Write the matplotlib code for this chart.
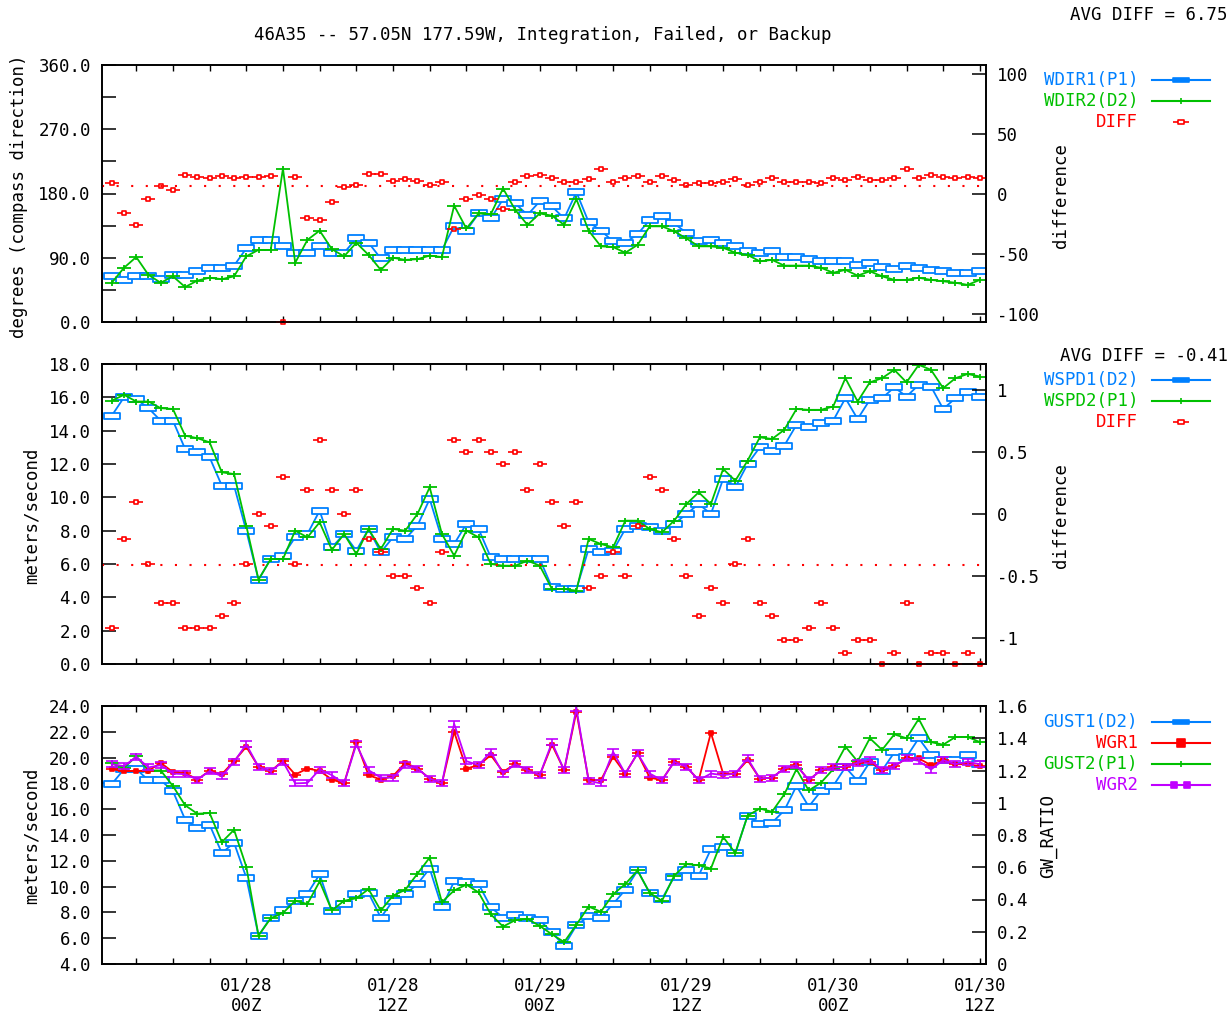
import numpy as np
import matplotlib.pyplot as plt
from matplotlib.path import Path
from matplotlib.lines import Line2D
from matplotlib.ticker import MultipleLocator, FixedLocator, FormatStrFormatter, FuncFormatter

plt.rcParams['font.family'] = ['DejaVu Sans Mono', 'DejaVu Sans']
plt.rcParams['font.size'] = 12.5
plt.rcParams['axes.unicode_minus'] = False

# hourly observations, hours relative to 01/28 00Z
hours = np.arange(-11, 61)
tick_hours = [0, 12, 24, 36, 48, 60]
tick_labels = ['01/28\n00Z', '01/28\n12Z', '01/29\n00Z', '01/29\n12Z', '01/30\n00Z', '01/30\n12Z']

# wind direction (degrees) and difference
wdir1 = [64, 59, 64, 64, 60, 66, 66, 71, 75, 75, 79, 103, 115, 115, 106, 97, 97, 106, 97, 97, 117, 111, 89, 101, 101, 101,
         101, 101, 134, 128, 152, 145, 172, 166, 150, 169, 162, 145, 182, 140, 128, 113, 111, 123, 143, 148, 138, 125,
         113, 115, 111, 106, 100, 96, 99, 91, 91, 88, 85, 85, 86, 80, 82, 77, 74, 79, 75, 73, 72, 69, 68, 72]
wdir2 = [55, 76, 91, 66, 55, 64, 49, 58, 62, 60, 64, 92, 101, 101, 215, 83, 115, 128, 102, 92, 111, 94, 73, 90, 87, 88,
         93, 91, 163, 131, 152, 151, 187, 157, 136, 152, 149, 136, 172, 128, 106, 105, 97, 108, 134, 134, 127, 117,
         106, 106, 104, 97, 94, 85, 87, 79, 79, 79, 76, 69, 73, 65, 71, 64, 59, 59, 62, 59, 57, 55, 52, 59]
wdir_diff = [8.9, -16, -26, -4.4, 6.1, 3.3, 15.8, 14.4, 13.6, 15, 13.6, 14.4, 14.4, 15, -107, 14.4, -20, -22, -7, 6, 7.5,
             16.7, 16.4, 10.8, 12.2, 10.8,
             7.5, 10, -29, -4, -1.4, -4, -13, 10, 15, 16, 13.6, 10, 10, 12, 21, 10, 13.6, 15, 10, 15, 11.7, 7.5, 9, 9,
             10, 12, 7.5, 10, 13, 10, 10, 10, 9, 13.6, 11.7, 14.4, 11.7, 11.7, 13.6, 21, 13.6, 16, 14.4, 13.6, 14.4, 13.6]
wdir_avg = 6.75

# wind speed (m/s) and difference
wspd1 = [14.9, 16.0, 15.9, 15.35, 14.6, 14.6, 12.9, 12.7, 12.4, 10.7, 10.7, 8.0, 5.06, 6.3, 6.5, 7.6, 7.8, 9.2, 7.0, 7.8,
         6.8, 8.1, 6.7, 7.6, 7.5, 8.3,
         9.9, 7.5, 7.2, 8.4, 8.1, 6.4, 6.3, 6.3, 6.3, 6.3, 4.6, 4.5, 4.5, 6.9, 6.7, 6.8, 8.1, 8.3, 8.2, 8.0, 8.4, 9.0,
         9.6, 9.0, 11.1, 10.6, 12.0, 13.0, 12.8, 13.1, 14.35, 14.25, 14.45, 14.6, 15.95, 14.7, 15.85, 15.95, 16.6,
         16.05, 16.75, 16.65, 15.3, 15.95, 16.3, 16.05]
wspd2 = [15.8, 16.15, 15.75, 15.75, 15.35, 15.3, 13.7, 13.55, 13.3, 11.5, 11.4, 8.3, 5.06, 6.3, 6.3, 8.0, 7.6, 8.5, 6.85,
         7.8, 6.6, 8.1, 6.9, 8.1, 8.0, 9.0,
         10.6, 7.8, 6.5, 8.0, 7.6, 6.0, 5.9, 5.9, 6.2, 5.9, 4.5, 4.5, 4.4, 7.5, 7.2, 7.0, 8.6, 8.6, 8.1, 7.9, 8.6, 9.6,
         10.3, 9.6, 11.7, 11.0, 12.2, 13.6, 13.5, 14.05, 15.3, 15.25, 15.25, 15.45, 17.15, 15.75, 16.9, 17.15, 17.65,
         16.9, 17.95, 17.65, 16.55, 17.15, 17.4, 17.25]
wspd_diff = [-0.92, -0.205, 0.095, -0.405, -0.72, -0.72, -0.92, -0.92, -0.92, -0.82, -0.72, -0.405, 0.0, -0.10, 0.30,
             -0.405, 0.195, 0.60, 0.195, 0.0, 0.195, -0.205, -0.305, -0.50, -0.50, -0.60,
             -0.72, -0.305, 0.60, 0.50, 0.60, 0.50, 0.40, 0.50, 0.195, 0.40, 0.095, -0.10, 0.095, -0.60, -0.50, -0.305,
             -0.50, -0.10, 0.30, 0.195, -0.205, -0.50, -0.82, -0.60, -0.72, -0.405, -0.205, -0.72, -0.82, -1.02, -1.02,
             -0.92, -0.72, -0.92, -1.12, -1.02, -1.02, -1.21, -1.12, -0.72, -1.21, -1.12, -1.12, -1.21, -1.12, -1.21]
wspd_avg = -0.41

# gusts (m/s) and gust/wind ratios
gust1 = [17.95, 19.1, 19.1, 18.25, 18.25, 17.4, 15.2, 14.55, 14.8, 12.6, 13.4, 10.7, 6.2, 7.6, 8.2, 8.9, 9.45, 10.95,
         8.1, 8.65, 9.45, 9.5, 7.6, 8.9, 9.4, 10.2,
         11.4, 8.4, 10.4, 10.35, 10.2, 8.4, 7.6, 7.8, 7.6, 7.4, 6.45, 5.4, 7.0, 7.7, 7.6, 8.65, 9.75, 11.25, 9.5, 9.05,
         10.75, 11.25, 10.85, 12.9, 13.05, 12.6, 15.5, 14.85, 14.95, 15.9, 17.8, 16.2, 17.4, 17.8, 19.25, 18.2, 19.65,
         19.0, 20.4, 20.05, 21.5, 20.2, 19.8, 19.8, 20.2, 19.5]
gust2 = [19.55, 19.2, 20.1, 19.0, 19.0, 17.8, 16.3, 15.65, 15.7, 13.45, 14.4, 11.55, 6.2, 7.55, 7.95, 8.9, 8.65, 10.4,
         8.15, 8.9, 9.1, 9.8, 8.15, 9.3, 9.75, 11.0,
         12.25, 8.8, 9.7, 10.15, 9.55, 7.85, 6.9, 7.4, 7.5, 6.95, 6.3, 5.7, 7.05, 8.45, 8.05, 9.4, 10.2, 11.25, 9.5,
         8.9, 10.85, 11.75, 11.65, 11.4, 13.85, 12.6, 15.5, 16.05, 15.8, 17.15, 19.1, 17.45, 18.05, 19.1, 20.85, 19.7,
         21.5, 20.6, 21.8, 21.5, 23.0, 21.2, 21.0, 21.6, 21.6, 21.2]
wgr1 = [1.208, 1.196, 1.198, 1.198, 1.248, 1.19, 1.185, 1.144, 1.198, 1.177, 1.258, 1.347, 1.223, 1.196, 1.26, 1.175,
        1.212, 1.198, 1.144, 1.12, 1.374, 1.171, 1.144, 1.165, 1.248, 1.212,
        1.15, 1.12, 1.44, 1.212, 1.233, 1.295, 1.192, 1.239, 1.202, 1.171, 1.36, 1.202, 1.565, 1.14, 1.14, 1.285, 1.181,
        1.306, 1.156, 1.14, 1.254, 1.223, 1.14, 1.434, 1.181, 1.181, 1.264, 1.15, 1.156, 1.212, 1.233, 1.14, 1.202,
        1.219, 1.223, 1.248, 1.254, 1.202, 1.227, 1.275, 1.275, 1.233, 1.264, 1.239, 1.239, 1.227]
wgr2 = [1.239, 1.227, 1.285, 1.219, 1.233, 1.181, 1.177, 1.144, 1.196, 1.165, 1.254, 1.362, 1.223, 1.196, 1.254, 1.12,
        1.123, 1.206, 1.171, 1.12, 1.362, 1.202, 1.156, 1.156, 1.233, 1.212,
        1.15, 1.12, 1.49, 1.258, 1.233, 1.316, 1.181, 1.239, 1.202, 1.171, 1.374, 1.202, 1.585, 1.136, 1.12, 1.316,
        1.181, 1.306, 1.181, 1.14, 1.254, 1.223, 1.14, 1.181, 1.171, 1.181, 1.275, 1.15, 1.156, 1.212, 1.233, 1.14,
        1.202, 1.219, 1.223, 1.248, 1.268, 1.202, 1.227, 1.275, 1.26, 1.206, 1.264, 1.239, 1.254, 1.239]

BLUE, GREEN, RED, PURPLE = '#0080ff', '#00c000', '#ff0000', '#c000ff'

# gnuplot-like point shapes
M, L, C = Path.MOVETO, Path.LINETO, Path.CLOSEPOLY
box_mk = Path([(-8.5, -3), (8.5, -3), (8.5, 3), (-8.5, 3), (-8.5, -3)], [M, L, L, L, C])
plus_mk = Path([(-6.5, 0), (6.5, 0), (0, -3), (0, 3)], [M, L, M, L])
diff_mk = Path([(-7, 0), (-2.5, 0), (-2.5, -2), (2.5, -2), (2.5, 2), (-2.5, 2), (-2.5, -2), (2.5, 0), (7, 0)],
               [M, L, M, L, L, L, C, M, L])
wgr1_mk = Path([(-6, 0), (6, 0), (-2.5, -2.5), (2.5, -2.5), (2.5, 2.5), (-2.5, 2.5), (-2.5, -2.5)],
               [M, L, M, L, L, L, C])
wgr2_mk = Path([(-6, 3), (6, 3), (-6, -3), (6, -3), (0, -3), (0, 3)], [M, L, M, L, M, L])

W, H = 1232, 1017
fig = plt.figure(figsize=(W / 100, H / 100), dpi=100)


def px_axes(left, top, right, bottom):
    return fig.add_axes([left / W, 1 - bottom / H, (right - left) / W, (bottom - top) / H])


def ftext(x, y, s, **kw):
    kw.setdefault('va', 'center')
    return fig.text(x / W, 1 - y / H, s, **kw)


def style(ax, axr, last=False):
    ax.set_xlim(-11.8, 60.5)
    ax.xaxis.set_major_locator(FixedLocator(tick_hours))
    ax.xaxis.set_minor_locator(MultipleLocator(3))
    ax.tick_params(axis='x', which='both', direction='in', top=True, bottom=True, length=4, width=1)
    ax.tick_params(axis='y', which='both', direction='in', left=True, right=False, length=10, width=1.1, pad=8)
    axr.tick_params(axis='y', which='both', direction='in', length=10, width=1.1, pad=8)
    axr.yaxis.set_major_formatter(FuncFormatter(lambda v, p: '%g' % round(v, 3)))
    ax.yaxis.set_major_formatter(FormatStrFormatter('%.1f'))
    for a in (ax, axr):
        for s in a.spines.values():
            s.set_linewidth(1.2)
    if last:
        ax.set_xticklabels(tick_labels)
        ax.tick_params(axis='x', which='major', pad=9)
    else:
        ax.tick_params(axis='x', labelbottom=False)


line_kw = dict(lw=1.3)
blue_kw = dict(color=BLUE, marker=box_mk, ms=12, mfc='white', mec=BLUE, mew=1.3, **line_kw)
green_kw = dict(color=GREEN, marker=plus_mk, ms=9.4, mec=GREEN, mew=1.3, **line_kw)
diff_kw = dict(ls='none', marker=diff_mk, ms=10, mec=RED, mfc='none', mew=1.2, clip_on=False)
avg_kw = dict(color=RED, ls=(0, (1, 6)), lw=1.5)

# ---- panel 1: wind direction
ax1 = px_axes(102, 65, 986, 322)
ax1.plot(hours, wdir1, **blue_kw)
ax1.plot(hours, wdir2, **green_kw)
ax1.set_ylim(0, 360)
ax1.yaxis.set_major_locator(MultipleLocator(90))
ax1.yaxis.set_minor_locator(MultipleLocator(45))
ax1r = ax1.twinx()
ax1r.axhline(wdir_avg, **avg_kw)
ax1r.plot(hours, wdir_diff, **diff_kw)
ax1r.set_ylim(-107, 107.5)
ax1r.yaxis.set_major_locator(MultipleLocator(50))
style(ax1, ax1r)

# ---- panel 2: wind speed
ax2 = px_axes(102, 364, 986, 664)
ax2.plot(hours, wspd1, **blue_kw)
ax2.plot(hours, wspd2, **green_kw)
ax2.set_ylim(0, 18)
ax2.yaxis.set_major_locator(MultipleLocator(2))
ax2r = ax2.twinx()
ax2r.axhline(wspd_avg, **avg_kw)
ax2r.plot(hours, wspd_diff, **diff_kw)
ax2r.set_ylim(-1.21, 1.21)
ax2r.yaxis.set_major_locator(MultipleLocator(0.5))
style(ax2, ax2r)

# ---- panel 3: gusts
ax3 = px_axes(102, 706, 986, 964)
ax3.plot(hours, gust1, **blue_kw)
ax3.plot(hours, gust2, **green_kw)
ax3.set_ylim(4, 24)
ax3.yaxis.set_major_locator(MultipleLocator(2))
ax3r = ax3.twinx()
ax3r.plot(hours, wgr1, color=RED, marker=wgr1_mk, ms=8.6, mec=RED, mfc=RED, mew=1.2, **line_kw)
ax3r.plot(hours, wgr2, color=PURPLE, marker=wgr2_mk, ms=9, mec=PURPLE, mew=1.2, **line_kw)
ax3r.set_ylim(0, 1.6)
ax3r.yaxis.set_major_locator(MultipleLocator(0.2))
style(ax3, ax3r, last=True)

# ---- titles and axis labels
ftext(543, 35, '46A35 -- 57.05N 177.59W, Integration, Failed, or Backup', ha='center')
ftext(1228, 15, 'AVG DIFF = 6.75', ha='right')
ftext(1228, 356, 'AVG DIFF = -0.41', ha='right')
ftext(19, 196, 'degrees (compass direction)', ha='center', rotation=90)
ftext(32, 516, 'meters/second', ha='center', rotation=90)
ftext(32, 836, 'meters/second', ha='center', rotation=90)
ftext(1061, 196, 'difference', ha='center', rotation=90)
ftext(1061, 516, 'difference', ha='center', rotation=90)
ftext(1048, 836, 'GW_RATIO', ha='center', rotation=90)


# ---- legends (gnuplot style: label right-aligned, sample on the right)
def legend_item(y, label, color, mk=None, ms=6, mfc=None, line=True, mk_x=(1181,)):
    ftext(1138, y, label, ha='right', color=color)
    yy = 1 - y / H
    if line:
        fig.add_artist(Line2D([1152 / W, 1210 / W], [yy, yy], transform=fig.transFigure, color=color, lw=1.5))
    if mk is not None:
        fig.add_artist(Line2D([x / W for x in mk_x], [yy] * len(mk_x), transform=fig.transFigure, ls='none',
                              marker=mk, ms=ms, mec=color, mfc=mfc or color, mew=1.2))


bar_mk = Path([(-10, -3), (10, -3), (10, 3), (-10, 3), (-10, -3)], [M, L, L, L, C])
tick_mk = Path([(0, -3), (0, 3)], [M, L])
sq_mk = Path([(-3, -3), (3, -3), (3, 3), (-3, 3), (-3, -3)], [M, L, L, L, C])

legend_item(80, 'WDIR1(P1)', BLUE, bar_mk, 11)
legend_item(101, 'WDIR2(D2)', GREEN, tick_mk, 4.5)
legend_item(122, 'DIFF', RED, diff_mk, 11, mfc='none', line=False)

legend_item(380, 'WSPD1(D2)', BLUE, bar_mk, 11)
legend_item(401, 'WSPD2(P1)', GREEN, tick_mk, 4.5)
legend_item(422, 'DIFF', RED, diff_mk, 11, mfc='none', line=False)

legend_item(722, 'GUST1(D2)', BLUE, bar_mk, 11)
legend_item(743, 'WGR1', RED, sq_mk, 5.5)
legend_item(764, 'GUST2(P1)', GREEN, tick_mk, 4.5)
legend_item(785, 'WGR2', PURPLE, sq_mk, 4.5, mk_x=(1174, 1187))

fig.savefig('out.png', dpi=100)
